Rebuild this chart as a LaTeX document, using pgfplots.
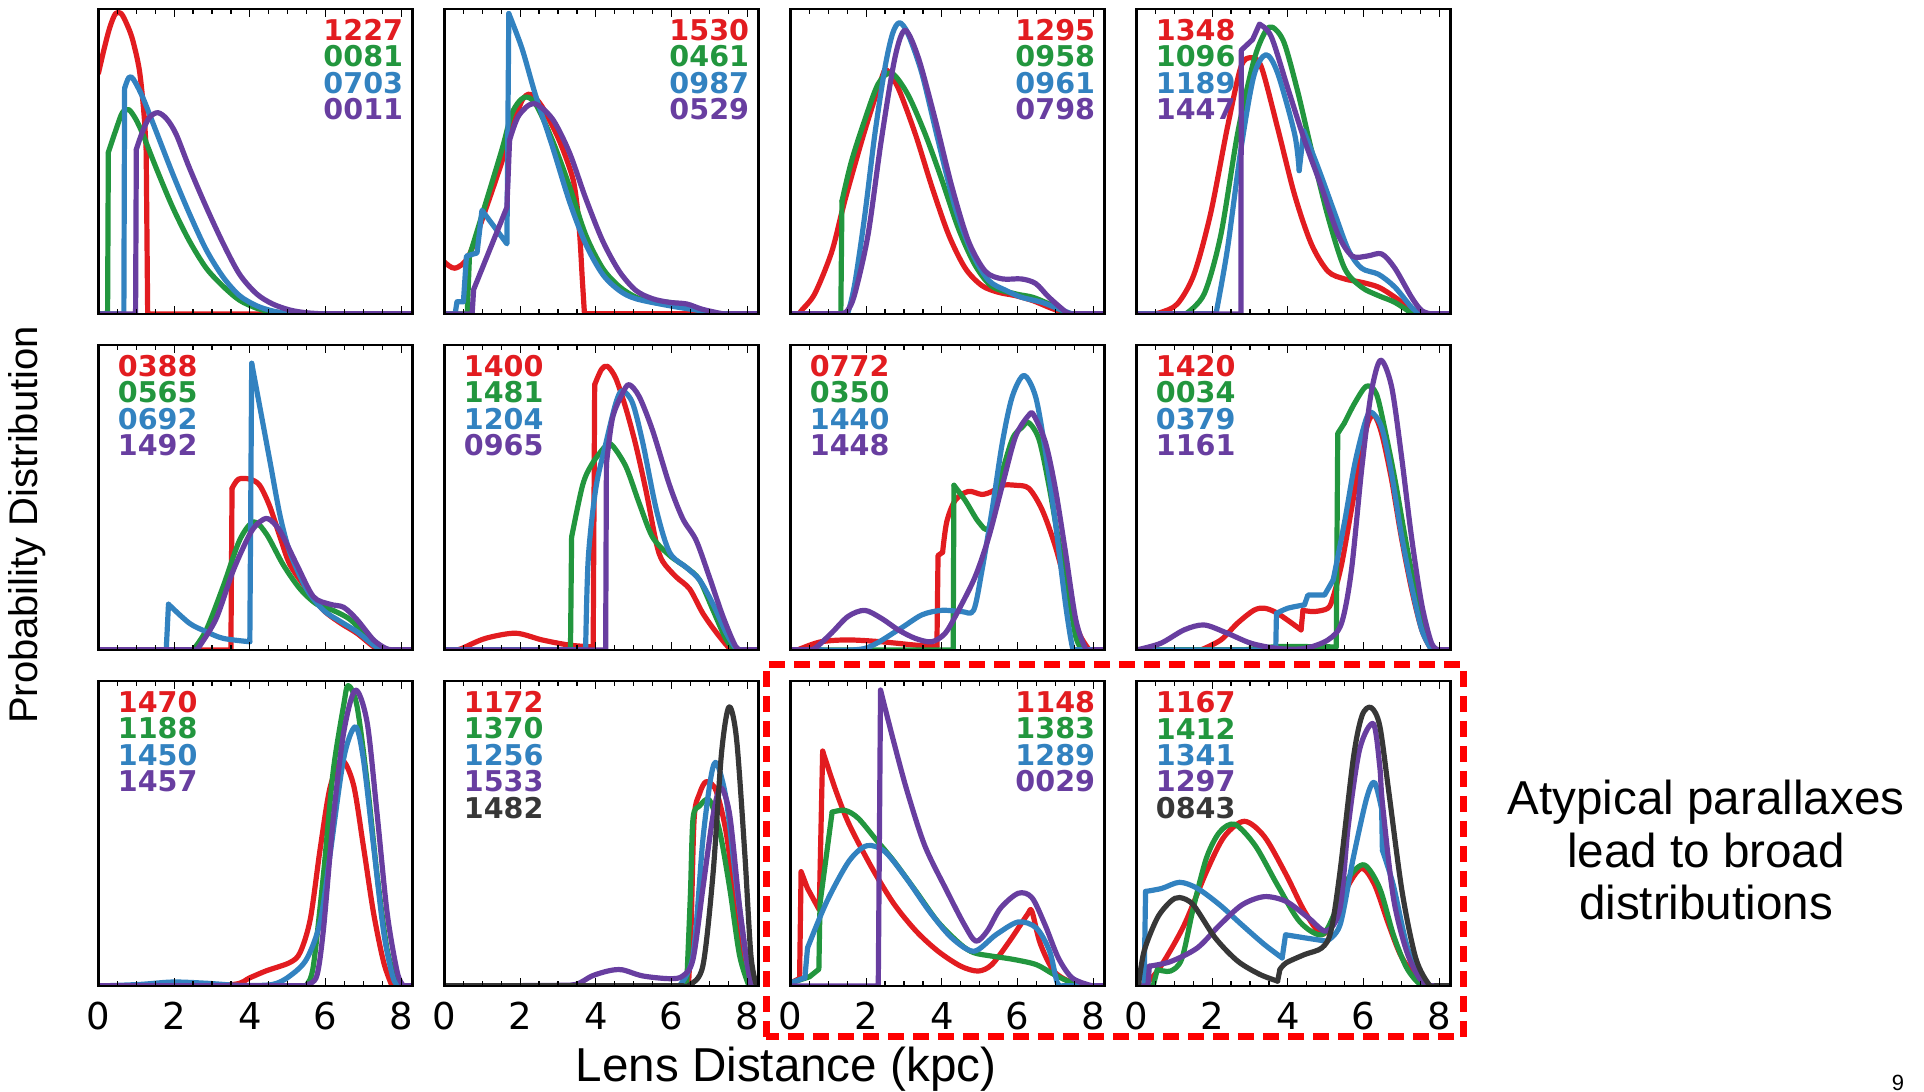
\documentclass[border=0pt]{standalone}
\usepackage{fontspec}
\setmainfont{Liberation Sans}
\newfontfamily\dvs{DejaVu Sans}
\usepackage{pgfplots}
\pgfplotsset{compat=1.18}
\definecolor{cR}{RGB}{226,28,32}
\definecolor{cG}{RGB}{34,150,62}
\definecolor{cB}{RGB}{50,130,192}
\definecolor{cP}{RGB}{104,62,160}
\definecolor{cK}{RGB}{55,55,55}
\tikzset{
 lr/.style={cR,line width=2.6pt,line join=round,line cap=round},
 lg/.style={cG,line width=2.6pt,line join=round,line cap=round},
 lb/.style={cB,line width=2.6pt,line join=round,line cap=round},
 lp/.style={cP,line width=2.6pt,line join=round,line cap=round},
 lk/.style={cK,line width=2.6pt,line join=round,line cap=round},
}
\newcommand{\labfont}{\dvs\bfseries\fontsize{14.3}{14.3}\selectfont}
\newcommand{\tickfont}{\dvs\fontsize{18.5}{18.5}\selectfont}
\newcommand{\sm}[2]{\addplot[#1,smooth,tension=0.5] coordinates {#2};}
\newcommand{\sh}[2]{\addplot[#1,sharp plot] coordinates {#2};}
\newcommand{\labR}[3]{\node[anchor=east,inner sep=0pt,text=#1,font=\labfont,xshift=-4.5pt,yshift=-10.5pt-13.2*#2 pt] at (rel axis cs:1,1) {#3};}
\newcommand{\labL}[3]{\node[anchor=west,inner sep=0pt,text=#1,font=\labfont,xshift=9.5pt,yshift=-10.5pt-13.2*#2 pt] at (rel axis cs:0,1) {#3};}
\pgfplotsset{
 panel/.style={
  scale only axis, width=157pt, height=152.5pt,
  xmin=0, xmax=8.3, ymin=0, ymax=1,
  xtick={0,2,4,6,8},
  minor xtick={0.5,1,1.5,2.5,3,3.5,4.5,5,5.5,6.5,7,7.5},
  ytick=\empty, xticklabels=\empty,
  tick align=inside,
  major tick length=4pt, minor tick length=2.5pt,
  every tick/.style={black, line width=0.6pt},
  axis line style={line width=1.2pt, black},
  axis on top, anchor=south west,
 },
 bottomrow/.style={xticklabels={0,2,4,6,8},
  xticklabel style={font=\tickfont, inner sep=0pt, anchor=center, yshift=-15pt}},
}
\begin{document}
\begin{tikzpicture}
\useasboundingbox (0,0) rectangle (962pt,546pt);

% ---------- Row 1 ----------
\begin{axis}[panel, at={(49.25pt,389pt)}]
\sm{lr}{(0,0.79)(0.15,0.87)(0.3,0.94)(0.45,0.985)(0.6,0.985)(0.75,0.95)(0.9,0.9)(1.08,0.8)(1.2,0.66)(1.26,0.54)}
\sh{lr}{(1.26,0.54)(1.3,0)(8.3,0)}
\sh{lg}{(0,0)(0.24,0)(0.26,0.53)}
\sm{lg}{(0.26,0.53)(0.45,0.6)(0.63,0.66)(0.8,0.67)(0.98,0.64)(1.17,0.59)(1.52,0.48)(1.96,0.35)(2.4,0.24)(2.85,0.15)(3.3,0.09)(3.73,0.045)(4.2,0.018)(4.6,0.006)(5.0,0)}
\sh{lg}{(5,0)(8.3,0)}
\sh{lb}{(0,0)(0.67,0)(0.69,0.74)}
\sm{lb}{(0.69,0.74)(0.8,0.775)(0.92,0.77)(1.17,0.71)(1.52,0.6)(1.96,0.46)(2.4,0.33)(2.85,0.21)(3.3,0.12)(3.73,0.06)(4.18,0.027)(4.6,0.01)(5.0,0.002)(5.3,0)}
\sh{lb}{(5.3,0)(8.3,0)}
\sh{lp}{(0,0)(0.98,0)(1.0,0.54)}
\sm{lp}{(1.0,0.54)(1.17,0.6)(1.35,0.645)(1.57,0.66)(1.8,0.64)(2.05,0.59)(2.4,0.48)(2.85,0.35)(3.3,0.23)(3.73,0.13)(4.18,0.066)(4.6,0.033)(5.06,0.013)(5.5,0.004)(6.0,0)}
\sh{lp}{(6,0)(8.3,0)}
\labR{cR}{0}{1227}\labR{cG}{1}{0081}\labR{cB}{2}{0703}\labR{cP}{3}{0011}
\end{axis}

\begin{axis}[panel, at={(222.25pt,389pt)}]
\sm{lr}{(0,0.17)(0.28,0.15)(0.64,0.19)(1.08,0.34)(1.52,0.5)(1.79,0.61)(2.05,0.7)(2.27,0.72)(2.58,0.68)(3.03,0.57)(3.38,0.45)(3.5,0.36)(3.58,0.25)(3.64,0.12)(3.7,0)}
\sh{lr}{(3.7,0)(8.3,0)}
\sh{lg}{(0,0)(0.6,0)(0.66,0.19)}
\sm{lg}{(0.66,0.19)(1.08,0.36)(1.52,0.54)(1.79,0.66)(2.1,0.71)(2.4,0.69)(2.85,0.57)(3.3,0.42)(3.73,0.26)(4.18,0.15)(4.62,0.09)(5.06,0.055)(5.5,0.04)(5.95,0.038)(6.4,0.027)(6.8,0.011)(7.3,0)}
\sh{lg}{(7.3,0)(8.3,0)}
\sh{lb}{(0,0)(0.28,0)(0.33,0.04)(0.5,0.04)(0.58,0.19)(0.86,0.2)(0.99,0.34)(1.35,0.28)(1.65,0.23)(1.7,0.985)}
\sm{lb}{(1.7,0.985)(2.05,0.87)(2.4,0.72)(2.85,0.55)(3.3,0.37)(3.73,0.23)(4.18,0.13)(4.62,0.077)(5.06,0.05)(5.95,0.027)(6.8,0.01)(7.3,0)}
\sh{lb}{(7.3,0)(8.3,0)}
\sh{lp}{(0,0)(0.73,0)(0.77,0.08)(1.65,0.35)(1.72,0.57)}
\sm{lp}{(1.72,0.57)(1.96,0.65)(2.36,0.69)(2.85,0.64)(3.3,0.53)(3.73,0.38)(4.18,0.24)(4.62,0.14)(5.06,0.077)(5.5,0.05)(5.95,0.038)(6.4,0.033)(6.8,0.016)(7.3,0.002)(7.5,0)}
\sh{lp}{(7.5,0)(8.3,0)}
\labR{cR}{0}{1530}\labR{cG}{1}{0461}\labR{cB}{2}{0987}\labR{cP}{3}{0529}
\end{axis}

\begin{axis}[panel, at={(395.25pt,389pt)}]
\sh{lr}{(0,0)(0.25,0)}
\sm{lr}{(0.25,0)(0.28,0.01)(0.64,0.066)(1.08,0.2)(1.35,0.33)(1.52,0.41)(1.96,0.6)(2.4,0.77)(2.54,0.8)(2.85,0.74)(3.3,0.59)(3.73,0.42)(4.18,0.26)(4.62,0.15)(5.06,0.093)(5.5,0.071)(5.95,0.06)(6.4,0.044)(6.83,0.022)(7.3,0)}
\sh{lr}{(7.3,0)(8.3,0)}
\sh{lg}{(0,0)(1.33,0)(1.36,0.37)}
\sm{lg}{(1.36,0.37)(1.61,0.5)(1.96,0.635)(2.32,0.755)(2.67,0.79)(3.1,0.72)(3.56,0.59)(4.0,0.44)(4.44,0.28)(4.88,0.16)(5.33,0.09)(5.95,0.066)(6.4,0.055)(6.83,0.033)(7.27,0.005)(7.5,0)}
\sh{lg}{(7.5,0)(8.3,0)}
\sh{lb}{(0,0)(1.45,0)}
\sm{lb}{(1.45,0)(1.52,0.005)(1.7,0.1)(1.96,0.32)(2.23,0.59)(2.5,0.81)(2.7,0.92)(2.88,0.955)(3.1,0.92)(3.47,0.79)(3.9,0.57)(4.35,0.35)(4.8,0.2)(5.24,0.11)(5.7,0.077)(6.1,0.055)(6.65,0.038)(7.1,0.016)(7.45,0)}
\sh{lb}{(7.45,0)(8.3,0)}
\sh{lp}{(0,0)(1.3,0)}
\sm{lp}{(1.3,0)(1.5,0.01)(1.7,0.066)(2.05,0.26)(2.4,0.57)(2.76,0.84)(3.03,0.93)(3.38,0.84)(3.82,0.64)(4.26,0.42)(4.7,0.24)(5.15,0.14)(5.6,0.115)(6.1,0.115)(6.48,0.1)(6.83,0.055)(7.3,0.005)(7.5,0)}
\sh{lp}{(7.5,0)(8.3,0)}
\labR{cR}{0}{1295}\labR{cG}{1}{0958}\labR{cB}{2}{0961}\labR{cP}{3}{0798}
\end{axis}

\begin{axis}[panel, at={(568.25pt,389pt)}]
\sh{lr}{(0,0)(0.4,0)}
\sm{lr}{(0.4,0)(0.64,0.005)(1.08,0.033)(1.52,0.13)(1.96,0.33)(2.4,0.61)(2.76,0.81)(3.03,0.84)(3.3,0.81)(3.73,0.61)(4.18,0.39)(4.62,0.23)(5.06,0.14)(5.5,0.115)(5.95,0.104)(6.4,0.088)(6.83,0.055)(7.3,0.011)(7.5,0)}
\sh{lr}{(7.5,0)(8.3,0)}
\sh{lg}{(0,0)(1.3,0)}
\sm{lg}{(1.3,0)(1.79,0.066)(2.23,0.26)(2.67,0.59)(3.1,0.83)(3.4,0.925)(3.6,0.94)(3.9,0.89)(4.26,0.73)(4.62,0.54)(5.06,0.32)(5.5,0.15)(5.95,0.088)(6.4,0.06)(6.83,0.038)(7.3,0)}
\sh{lg}{(7.3,0)(8.3,0)}
\sh{lb}{(0,0)(2.1,0)}
\sm{lb}{(2.1,0)(2.4,0.21)(2.76,0.54)(3.1,0.78)(3.42,0.85)(3.73,0.79)(4.18,0.59)(4.3,0.47)}
\sh{lb}{(4.3,0.47)(4.42,0.6)}
\sm{lb}{(4.42,0.6)(4.8,0.48)(5.24,0.33)(5.6,0.21)(5.95,0.15)(6.4,0.13)(6.83,0.088)(7.27,0.022)(7.5,0)}
\sh{lb}{(7.5,0)(8.3,0)}
\sh{lp}{(0,0)(2.76,0)(2.77,0.865)(2.9,0.88)(3.07,0.9)(3.25,0.95)}
\sm{lp}{(3.25,0.95)(3.56,0.91)(4.0,0.74)(4.44,0.57)(4.88,0.42)(5.33,0.26)(5.7,0.19)(6.1,0.19)(6.48,0.197)(6.83,0.15)(7.27,0.055)(7.54,0.011)(7.8,0)}
\sh{lp}{(7.8,0)(8.3,0)}
\labL{cR}{0}{1348}\labL{cG}{1}{1096}\labL{cB}{2}{1189}\labL{cP}{3}{1447}
\end{axis}

% ---------- Row 2 ----------
\begin{axis}[panel, at={(49.25pt,221pt)}]
\sh{lr}{(0,0)(3.5,0)(3.53,0.53)}
\sm{lr}{(3.53,0.53)(3.7,0.56)(4.0,0.56)(4.26,0.54)(4.53,0.47)(4.8,0.37)(5.06,0.28)(5.5,0.2)(5.95,0.13)(6.4,0.088)(6.83,0.055)(7.27,0.011)(7.5,0)}
\sh{lr}{(7.5,0)(8.3,0)}
\sh{lg}{(0,0)(2.5,0)}
\sm{lg}{(2.5,0)(2.85,0.066)(3.3,0.21)(3.73,0.36)(4.1,0.42)(4.44,0.38)(4.88,0.28)(5.33,0.2)(5.77,0.15)(6.2,0.13)(6.65,0.1)(7.1,0.044)(7.45,0.005)(7.6,0)}
\sh{lg}{(7.6,0)(8.3,0)}
\sh{lb}{(0,0)(1.79,0)(1.85,0.15)}
\sm{lb}{(1.85,0.15)(2.4,0.088)(2.85,0.06)(3.3,0.038)(4.0,0.027)}
\sh{lb}{(4.0,0.027)(4.05,0.94)}
\sm{lb}{(4.05,0.94)(4.26,0.8)(4.53,0.62)(4.8,0.44)(5.06,0.32)(5.5,0.2)(5.95,0.13)(6.4,0.093)(6.83,0.06)(7.27,0.016)(7.5,0)}
\sh{lb}{(7.5,0)(8.3,0)}
\sh{lp}{(0,0)(2.6,0)}
\sm{lp}{(2.6,0)(3.1,0.1)(3.56,0.26)(4.0,0.38)(4.26,0.42)(4.49,0.43)(4.8,0.39)(5.24,0.28)(5.68,0.175)(6.12,0.15)(6.48,0.14)(6.83,0.1)(7.27,0.033)(7.6,0.005)(7.8,0)}
\sh{lp}{(7.8,0)(8.3,0)}
\labL{cR}{0}{0388}\labL{cG}{1}{0565}\labL{cB}{2}{0692}\labL{cP}{3}{1492}
\end{axis}

\begin{axis}[panel, at={(222.25pt,221pt)}]
\sh{lr}{(0,0)(0.3,0)}
\sm{lr}{(0.3,0)(0.46,0.005)(1.08,0.038)(1.88,0.055)(2.58,0.033)(3.3,0.016)(3.93,0.01)}
\sh{lr}{(3.93,0.01)(3.97,0.87)}
\sm{lr}{(3.97,0.87)(4.15,0.92)(4.31,0.93)(4.53,0.89)(4.8,0.79)(5.06,0.67)(5.33,0.52)(5.6,0.35)(5.77,0.29)(6.12,0.24)(6.48,0.2)(6.83,0.12)(7.2,0.055)(7.54,0.005)(7.7,0)}
\sh{lr}{(7.7,0)(8.3,0)}
\sh{lg}{(0,0)(3.33,0)(3.36,0.37)}
\sm{lg}{(3.36,0.37)(3.65,0.54)(3.9,0.61)(4.27,0.67)(4.44,0.67)(4.8,0.6)(5.15,0.48)(5.5,0.37)(5.95,0.31)(6.4,0.27)(6.74,0.23)(7.1,0.13)(7.45,0.033)(7.7,0)}
\sh{lg}{(7.7,0)(8.3,0)}
\sh{lb}{(0,0)(3.73,0)}
\sm{lb}{(3.73,0)(3.8,0.3)(4.0,0.53)(4.27,0.68)(4.53,0.81)(4.7,0.85)(4.97,0.81)(5.24,0.68)(5.6,0.46)(5.95,0.32)(6.4,0.27)(6.74,0.23)(7.1,0.15)(7.45,0.055)(7.7,0.005)(7.8,0)}
\sh{lb}{(7.8,0)(8.3,0)}
\sh{lp}{(0,0)(4.26,0)(4.28,0.61)}
\sm{lp}{(4.28,0.61)(4.44,0.76)(4.7,0.84)(4.88,0.87)(5.15,0.83)(5.5,0.72)(5.95,0.54)(6.3,0.43)(6.65,0.36)(7.0,0.24)(7.36,0.11)(7.7,0.011)(7.9,0)}
\sh{lp}{(7.9,0)(8.3,0)}
\labL{cR}{0}{1400}\labL{cG}{1}{1481}\labL{cB}{2}{1204}\labL{cP}{3}{0965}
\end{axis}

\begin{axis}[panel, at={(395.25pt,221pt)}]
\sh{lr}{(0,0)(0.2,0)}
\sm{lr}{(0.2,0)(0.28,0.005)(0.81,0.027)(1.52,0.033)(2.4,0.027)(3.3,0.016)(3.87,0.011)}
\sh{lr}{(3.87,0.011)(3.9,0.31)(4.02,0.32)}
\sm{lr}{(4.02,0.32)(4.13,0.42)(4.35,0.49)(4.7,0.52)(5.06,0.51)(5.33,0.52)(5.6,0.54)(5.95,0.54)(6.3,0.53)(6.65,0.46)(7.0,0.34)(7.36,0.175)(7.63,0.055)(7.9,0)}
\sh{lr}{(7.9,0)(8.3,0)}
\sh{lg}{(0,0)(4.3,0)(4.32,0.54)}
\sm{lg}{(4.32,0.54)(4.62,0.49)(4.97,0.42)(5.24,0.4)(5.5,0.54)(5.86,0.69)(6.12,0.73)(6.3,0.745)(6.57,0.69)(6.83,0.54)(7.1,0.35)(7.36,0.175)(7.54,0.044)(7.7,0)}
\sh{lg}{(7.7,0)(8.3,0)}
\sh{lb}{(0,0)(0.8,0)}
\sm{lb}{(0.8,0)(1.96,0.005)(2.85,0.066)(3.47,0.115)(4.0,0.13)(4.53,0.126)(4.84,0.13)(5.06,0.26)(5.33,0.46)(5.6,0.68)(5.86,0.83)(6.17,0.9)(6.48,0.83)(6.74,0.65)(7.0,0.42)(7.27,0.15)(7.45,0.01)(7.55,0)}
\sh{lb}{(7.55,0)(8.3,0)}
\sh{lp}{(0,0)(0.4,0)}
\sm{lp}{(0.4,0)(0.64,0.005)(1.08,0.055)(1.52,0.11)(1.96,0.13)(2.4,0.104)(2.85,0.066)(3.3,0.038)(3.73,0.027)(4.09,0.055)(4.44,0.13)(4.88,0.24)(5.24,0.37)(5.6,0.54)(5.95,0.7)(6.3,0.77)(6.43,0.77)(6.74,0.68)(7.0,0.53)(7.27,0.32)(7.54,0.1)(7.8,0.005)(8.0,0)}
\sh{lp}{(8,0)(8.3,0)}
\labL{cR}{0}{0772}\labL{cG}{1}{0350}\labL{cB}{2}{1440}\labL{cP}{3}{1448}
\end{axis}

\begin{axis}[panel, at={(568.25pt,221pt)}]
\sh{lr}{(0,0)(1.7,0)}
\sm{lr}{(1.7,0)(2.23,0.033)(2.67,0.088)(3.1,0.13)(3.38,0.137)(3.73,0.12)(4.35,0.066)}
\sh{lr}{(4.35,0.066)(4.4,0.13)}
\sm{lr}{(4.4,0.13)(4.7,0.126)(5.06,0.137)(5.2,0.175)(5.42,0.28)(5.68,0.46)(5.95,0.65)(6.12,0.745)(6.28,0.77)(6.48,0.71)(6.74,0.56)(7.0,0.37)(7.27,0.2)(7.54,0.066)(7.8,0)}
\sh{lr}{(7.8,0)(8.3,0)}
\sh{lg}{(0,0)(2.8,0)}
\sm{lg}{(2.8,0)(3.73,0.011)(4.62,0.011)(5.28,0.01)}
\sh{lg}{(5.28,0.01)(5.32,0.71)(5.5,0.745)}
\sm{lg}{(5.5,0.745)(5.77,0.81)(6.08,0.865)(6.34,0.84)(6.57,0.72)(6.83,0.56)(7.1,0.37)(7.36,0.2)(7.63,0.055)(7.85,0)}
\sh{lg}{(7.85,0)(8.3,0)}
\sh{lb}{(0,0)(3.68,0)(3.7,0.12)}
\sm{lb}{(3.7,0.12)(4.0,0.137)(4.44,0.148)}
\sh{lb}{(4.44,0.148)(4.53,0.18)(4.97,0.18)(5.2,0.23)}
\sm{lb}{(5.2,0.23)(5.5,0.42)(5.77,0.61)(6.04,0.745)(6.2,0.78)(6.48,0.73)(6.74,0.58)(7.0,0.38)(7.27,0.21)(7.54,0.066)(7.8,0)}
\sh{lb}{(7.8,0)(8.3,0)}
\sm{lp}{(0,0)(0.64,0.022)(1.26,0.066)(1.79,0.082)(2.4,0.055)(3.03,0.022)(3.73,0.005)(4.44,0.005)(5.06,0.033)(5.42,0.088)(5.68,0.26)(5.95,0.59)(6.2,0.84)(6.45,0.95)(6.74,0.865)(7.0,0.64)(7.27,0.37)(7.54,0.15)(7.8,0.022)(8.0,0)}
\sh{lp}{(8,0)(8.3,0)}
\labL{cR}{0}{1420}\labL{cG}{1}{0034}\labL{cB}{2}{0379}\labL{cP}{3}{1161}
\end{axis}

% ---------- Row 3 ----------
\begin{axis}[panel, bottomrow, at={(49.25pt,53pt)}]
\sm{lr}{(0,0)(1.96,0.003)(3.56,0.005)(4.0,0.027)(4.44,0.05)(5.06,0.077)(5.33,0.11)(5.6,0.22)(5.86,0.45)(6.12,0.65)(6.43,0.74)(6.74,0.66)(7.0,0.46)(7.27,0.24)(7.54,0.077)(7.76,0)}
\sh{lr}{(7.76,0)(8.3,0)}
\sh{lg}{(0,0)(5.4,0)}
\sm{lg}{(5.4,0)(5.5,0.003)(5.68,0.066)(5.95,0.37)(6.2,0.7)(6.48,0.92)(6.6,0.985)(6.83,0.92)(7.1,0.67)(7.36,0.37)(7.63,0.12)(7.9,0)}
\sh{lg}{(7.9,0)(8.3,0)}
\sm{lb}{(0,0)(1.08,0.005)(1.96,0.013)(2.85,0.009)(3.73,0.002)(4.6,0.005)(5.06,0.033)(5.5,0.088)(5.86,0.21)(6.12,0.43)(6.48,0.745)(6.79,0.85)(7.0,0.745)(7.27,0.46)(7.54,0.175)(7.8,0.022)(8.0,0)}
\sh{lb}{(8,0)(8.3,0)}
\sh{lp}{(0,0)(5.4,0)}
\sm{lp}{(5.4,0)(5.5,0.003)(5.77,0.033)(5.95,0.19)(6.2,0.54)(6.48,0.83)(6.79,0.97)(7.1,0.865)(7.36,0.57)(7.63,0.24)(7.9,0.044)(8.07,0)}
\sh{lp}{(8.07,0)(8.3,0)}
\labL{cR}{0}{1470}\labL{cG}{1}{1188}\labL{cB}{2}{1450}\labL{cP}{3}{1457}
\end{axis}

\begin{axis}[panel, bottomrow, at={(222.25pt,53pt)}]
\sh{lr}{(0,0)(6.45,0)}
\sm{lr}{(6.45,0)(6.52,0.2)(6.6,0.55)(6.74,0.63)(6.92,0.67)(7.18,0.64)(7.45,0.5)(7.7,0.26)(7.98,0.055)(8.15,0)}
\sh{lr}{(8.15,0)(8.3,0)}
\sh{lg}{(0,0)(6.4,0)}
\sm{lg}{(6.4,0)(6.5,0.3)(6.57,0.55)(6.74,0.59)(7.0,0.61)(7.27,0.51)(7.54,0.32)(7.8,0.1)(8.05,0)}
\sh{lg}{(8.05,0)(8.3,0)}
\sh{lb}{(0,0)(6.2,0)}
\sm{lb}{(6.2,0)(6.57,0.1)(6.83,0.48)(7.05,0.69)(7.2,0.73)(7.45,0.61)(7.7,0.35)(7.98,0.088)(8.15,0)}
\sh{lb}{(8.15,0)(8.3,0)}
\sm{lp}{(0,0)(2.85,0.002)(3.47,0.005)(3.9,0.033)(4.35,0.05)(4.7,0.053)(5.24,0.033)(5.95,0.024)(6.3,0.033)(6.57,0.088)(6.83,0.32)(7.1,0.56)(7.3,0.65)(7.54,0.56)(7.8,0.26)(8.07,0.022)(8.2,0)}
\sh{lp}{(8.2,0)(8.3,0)}
\sh{lk}{(0,0)(6.3,0)}
\sm{lk}{(6.3,0)(6.48,0.003)(6.83,0.066)(7.1,0.37)(7.32,0.76)(7.52,0.915)(7.72,0.81)(7.94,0.43)(8.1,0.1)(8.25,0)}
\labL{cR}{0}{1172}\labL{cG}{1}{1370}\labL{cB}{2}{1256}\labL{cP}{3}{1533}\labL{cK}{4}{1482}
\end{axis}

\begin{axis}[panel, bottomrow, at={(395.25pt,53pt)}]
\sh{lr}{(0,0.01)(0.24,0.025)(0.28,0.375)(0.45,0.32)(0.76,0.25)(0.85,0.77)}
\sm{lr}{(0.85,0.77)(1.2,0.64)(1.55,0.53)(2.14,0.39)(2.73,0.27)(3.32,0.18)(3.9,0.114)(4.5,0.065)(4.96,0.049)(5.32,0.07)(5.79,0.147)(6.26,0.234)(6.38,0.245)(6.6,0.14)(6.96,0.049)(7.44,0.011)(7.9,0)}
\sh{lr}{(7.9,0)(8.3,0)}
\sh{lg}{(0,0.01)(0.5,0.03)(0.75,0.055)(0.78,0.27)(1.1,0.57)}
\sm{lg}{(1.1,0.57)(1.44,0.576)(1.79,0.55)(2.26,0.48)(2.73,0.41)(3.32,0.31)(3.9,0.21)(4.5,0.136)(4.85,0.109)(5.32,0.098)(5.9,0.087)(6.5,0.07)(6.96,0.038)(7.44,0.011)(7.9,0)}
\sh{lg}{(7.9,0)(8.3,0)}
\sm{lb}{(0,0.01)(0.38,0.027)}
\sh{lb}{(0.38,0.027)(0.45,0.125)}
\sm{lb}{(0.45,0.125)(0.96,0.277)(1.55,0.41)(2.02,0.46)(2.5,0.44)(3.08,0.35)(3.67,0.245)(4.26,0.158)(4.85,0.114)(5.43,0.168)(6.02,0.21)(6.5,0.19)(6.85,0.114)(7.05,0.011)(7.2,0)}
\sh{lb}{(7.2,0)(8.3,0)}
\sh{lp}{(0,0)(2.32,0)(2.38,0.97)}
\sm{lp}{(2.38,0.97)(2.73,0.8)(3.08,0.64)(3.55,0.46)(4.14,0.31)(4.6,0.2)(4.9,0.147)(5.2,0.18)(5.55,0.255)(6.02,0.304)(6.38,0.29)(6.73,0.2)(7.08,0.092)(7.44,0.027)(7.9,0.003)(8.1,0)}
\sh{lp}{(8.1,0)(8.3,0)}
\labR{cR}{0}{1148}\labR{cG}{1}{1383}\labR{cB}{2}{1289}\labR{cP}{3}{0029}
\end{axis}

\begin{axis}[panel, bottomrow, at={(568.25pt,53pt)}]
\sm{lr}{(0,0)(0.08,0)(0.32,0.016)(0.67,0.07)(1.26,0.2)(1.85,0.375)(2.32,0.49)(2.85,0.54)(3.38,0.49)(3.96,0.364)(4.44,0.245)(4.9,0.17)(5.26,0.223)(5.6,0.33)(5.96,0.386)(6.3,0.33)(6.67,0.2)(7.02,0.092)(7.5,0.016)(7.8,0)}
\sh{lr}{(7.8,0)(8.3,0)}
\sh{lg}{(0,0)(0.44,0)(0.55,0.054)}
\sm{lg}{(0.55,0.054)(0.9,0.049)(1.2,0.09)(1.5,0.255)(1.85,0.42)(2.2,0.505)(2.6,0.53)(3.14,0.46)(3.73,0.33)(4.32,0.21)(4.9,0.168)(5.26,0.245)(5.6,0.353)(6.02,0.397)(6.43,0.32)(6.79,0.168)(7.14,0.06)(7.5,0.005)(7.8,0)}
\sh{lg}{(7.8,0)(8.3,0)}
\sh{lb}{(0,0)(0.2,0)(0.24,0.31)}
\sm{lb}{(0.24,0.31)(0.67,0.32)(1.14,0.34)(1.61,0.32)(2.2,0.266)(2.79,0.2)(3.38,0.136)(3.85,0.092)}
\sh{lb}{(3.85,0.092)(3.94,0.168)(4.44,0.158)(5.02,0.147)}
\sm{lb}{(5.02,0.147)(5.38,0.2)(5.73,0.42)(6.08,0.614)(6.29,0.668)(6.48,0.58)}
\sh{lb}{(6.48,0.58)(6.5,0.445)}
\sm{lb}{(6.5,0.445)(6.79,0.33)(7.14,0.136)(7.5,0.027)(7.8,0)}
\sh{lb}{(7.8,0)(8.3,0)}
\sh{lp}{(0,0)(0.3,0)(0.34,0.065)}
\sm{lp}{(0.34,0.065)(0.9,0.08)(1.61,0.125)(2.2,0.2)(2.79,0.266)(3.38,0.293)(3.96,0.277)(4.55,0.223)(5.02,0.18)(5.38,0.255)(5.6,0.527)(5.9,0.777)(6.26,0.86)(6.43,0.72)(6.5,0.6)(6.79,0.29)(7.14,0.114)(7.5,0.022)(7.8,0)}
\sh{lp}{(7.8,0)(8.3,0)}
\sh{lk}{(0,0)(0.05,0)}
\sm{lk}{(0.05,0)(0.2,0.114)(0.55,0.223)(0.9,0.277)(1.14,0.29)(1.5,0.266)(2.08,0.158)(2.67,0.082)(3.26,0.038)(3.73,0.016)}
\sh{lk}{(3.73,0.016)(3.79,0.054)}
\sm{lk}{(3.79,0.054)(3.96,0.076)(4.44,0.103)(4.9,0.125)(5.14,0.18)(5.38,0.375)(5.73,0.745)(5.96,0.886)(6.2,0.913)(6.43,0.853)(6.67,0.636)(7.02,0.31)(7.38,0.092)(7.73,0.005)(7.9,0)}
\sh{lk}{(7.9,0)(8.3,0)}
\labL{cR}{0}{1167}\labL{cG}{1}{1412}\labL{cB}{2}{1341}\labL{cP}{3}{1297}\labL{cK}{4}{0843}
\end{axis}

% ---------- texts ----------
\node[anchor=base, font=\fontsize{23.8}{23.8}\selectfont] at (393pt,5pt) {Lens Distance (kpc)};
\node[rotate=90, font=\fontsize{20}{20}\selectfont] at (13.5pt,283.5pt) {Probability Distribution};
\node[anchor=base, font=\fontsize{23.8}{23.8}\selectfont] at (853pt,138.5pt) {Atypical parallaxes};
\node[anchor=base, font=\fontsize{23.8}{23.8}\selectfont] at (853pt,112pt) {lead to broad};
\node[anchor=base, font=\fontsize{23.8}{23.8}\selectfont] at (853pt,86pt) {distributions};
\node[anchor=base, inner sep=0pt, font=\fontsize{11}{11}\selectfont] at (949pt,0.8pt) {9};
\draw[color={rgb,255:red,255;green,0;blue,0}, line width=3.5pt, dash pattern=on 8pt off 4.5pt] (383pt,27.5pt) rectangle (731.5pt,213.5pt);
\end{tikzpicture}
\end{document}
